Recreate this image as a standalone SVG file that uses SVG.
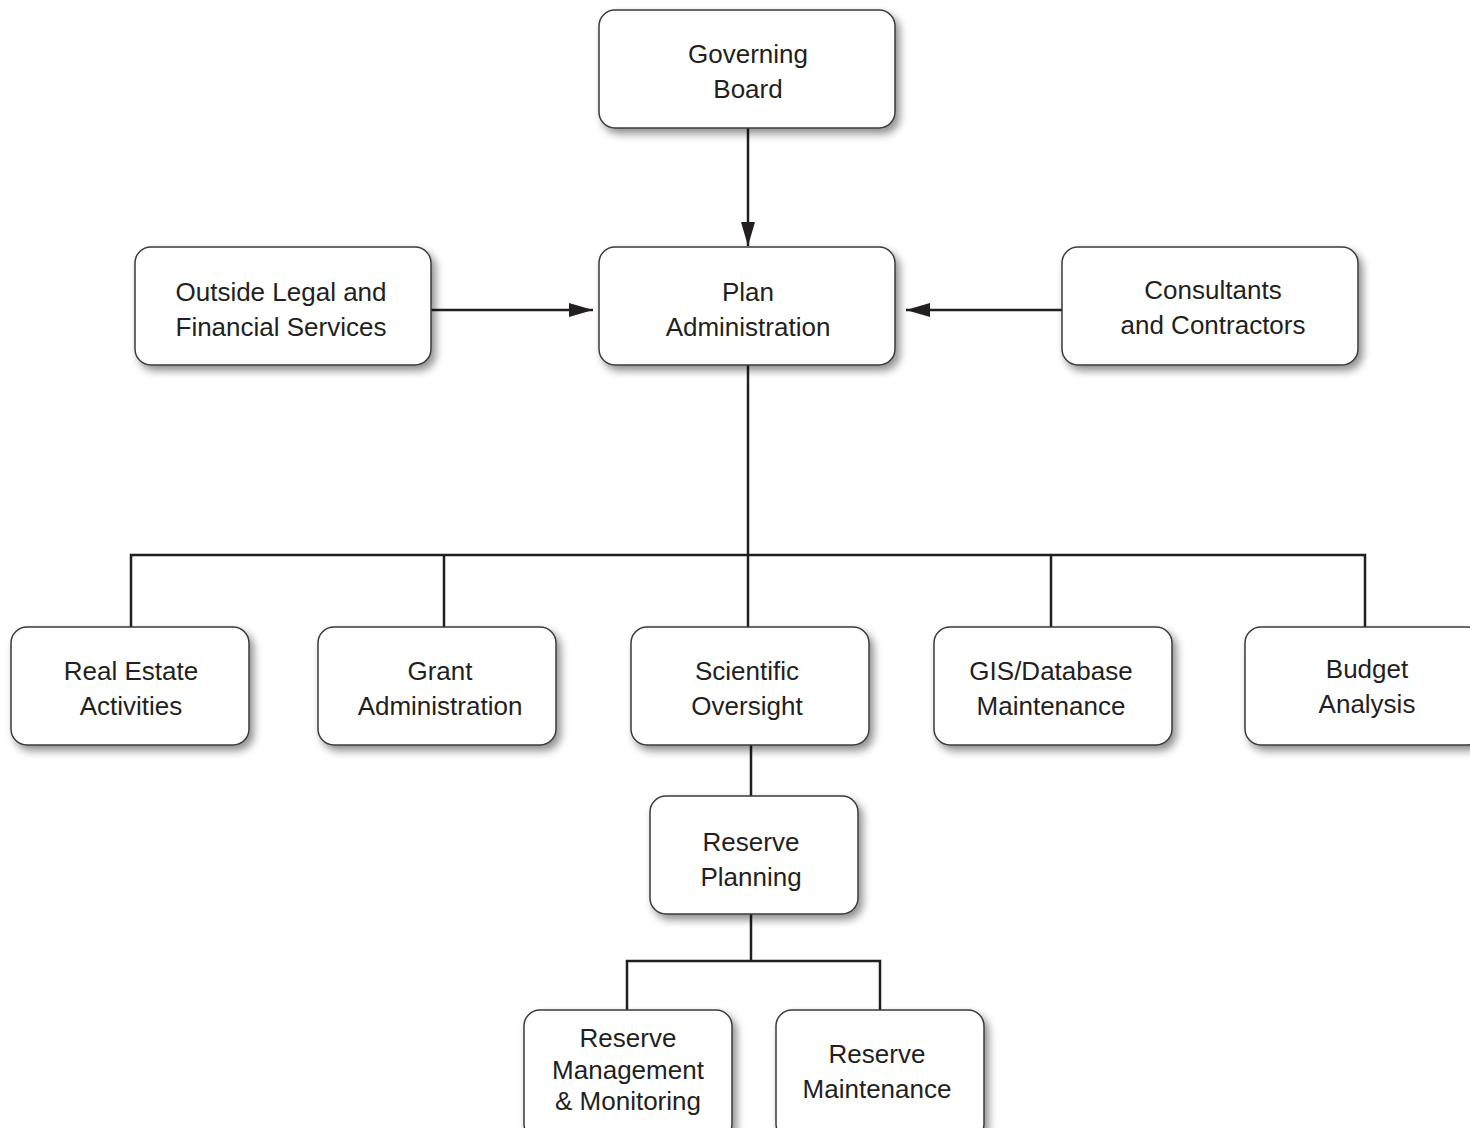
<svg xmlns="http://www.w3.org/2000/svg" width="1470" height="1128" viewBox="0 0 1470 1128">
<style>
.box{fill:#fff;stroke:#3a3a3a;stroke-width:1.5;filter:url(#sh)}
.t{font-family:"Liberation Sans",Arial,sans-serif;font-size:26px;fill:#231f20;text-anchor:middle}
.c{fill:none;stroke:#231f20;stroke-width:2.5}
</style>
<defs>
<filter id="sh" x="-10%" y="-10%" width="125%" height="130%">
<feGaussianBlur in="SourceAlpha" stdDeviation="4"/>
<feOffset dx="4" dy="5" result="b"/>
<feComponentTransfer><feFuncA type="linear" slope="0.45"/></feComponentTransfer>
<feMerge><feMergeNode/><feMergeNode in="SourceGraphic"/></feMerge>
</filter>
<marker id="ah" viewBox="0 0 10 8" refX="10" refY="4" markerWidth="10" markerHeight="8" markerUnits="userSpaceOnUse" orient="auto">
<path d="M0,0 L10,4 L0,8 Z" fill="#231f20"/>
</marker>
<marker id="ah2" viewBox="0 0 24 14" refX="24" refY="7" markerWidth="24" markerHeight="14" markerUnits="userSpaceOnUse" orient="auto">
<path d="M0,0 L24,7 L0,14 Z" fill="#231f20"/>
</marker>
</defs>
<rect width="1470" height="1128" fill="#fff"/>
<g id="connectors">
<line class="c" x1="748" y1="128" x2="748" y2="246" marker-end="url(#ah2)"/>
<line class="c" x1="431" y1="310" x2="593" y2="310" marker-end="url(#ah2)"/>
<line class="c" x1="1062" y1="310" x2="906" y2="310" marker-end="url(#ah2)"/>
<polyline class="c" points="748,365 748,555"/>
<polyline class="c" points="131,627 131,555 1365,555 1365,627"/>
<line class="c" x1="444" y1="555" x2="444" y2="627"/>
<line class="c" x1="748" y1="555" x2="748" y2="627"/>
<line class="c" x1="1051" y1="555" x2="1051" y2="627"/>
<line class="c" x1="751" y1="745" x2="751" y2="796"/>
<line class="c" x1="751" y1="914" x2="751" y2="961"/>
<polyline class="c" points="627,1010 627,961 880,961 880,1010"/>
</g>
<g id="governing-board"><rect class="box" x="599" y="10" width="296" height="118" rx="16"/><text class="t" x="748" y="63">Governing</text><text class="t" x="748" y="98">Board</text></g>
<g id="outside-legal"><rect class="box" x="135" y="247" width="296" height="118" rx="16"/><text class="t" x="281" y="301">Outside Legal and</text><text class="t" x="281" y="336">Financial Services</text></g>
<g id="plan-administration"><rect class="box" x="599" y="247" width="296" height="118" rx="16"/><text class="t" x="748" y="301">Plan</text><text class="t" x="748" y="336">Administration</text></g>
<g id="consultants"><rect class="box" x="1062" y="247" width="296" height="118" rx="16"/><text class="t" x="1213" y="299">Consultants</text><text class="t" x="1213" y="334">and Contractors</text></g>
<g id="real-estate"><rect class="box" x="11" y="627" width="238" height="118" rx="16"/><text class="t" x="131" y="680">Real Estate</text><text class="t" x="131" y="715">Activities</text></g>
<g id="grant-administration"><rect class="box" x="318" y="627" width="238" height="118" rx="16"/><text class="t" x="440" y="680">Grant</text><text class="t" x="440" y="715">Administration</text></g>
<g id="scientific-oversight"><rect class="box" x="631" y="627" width="238" height="118" rx="16"/><text class="t" x="747" y="680">Scientific</text><text class="t" x="747" y="715">Oversight</text></g>
<g id="gis-database"><rect class="box" x="934" y="627" width="238" height="118" rx="16"/><text class="t" x="1051" y="680">GIS/Database</text><text class="t" x="1051" y="715">Maintenance</text></g>
<g id="budget-analysis"><rect class="box" x="1245" y="627" width="238" height="118" rx="16"/><text class="t" x="1367" y="678">Budget</text><text class="t" x="1367" y="713">Analysis</text></g>
<g id="reserve-planning"><rect class="box" x="650" y="796" width="208" height="118" rx="16"/><text class="t" x="751" y="851">Reserve</text><text class="t" x="751" y="886">Planning</text></g>
<g id="reserve-management"><rect class="box" x="524" y="1010" width="208" height="130" rx="16"/><text class="t" x="628" y="1047">Reserve</text><text class="t" x="628" y="1079">Management</text><text class="t" x="628" y="1110">&amp; Monitoring</text></g>
<g id="reserve-maintenance"><rect class="box" x="776" y="1010" width="208" height="130" rx="16"/><text class="t" x="877" y="1063">Reserve</text><text class="t" x="877" y="1098">Maintenance</text></g>
</svg>
